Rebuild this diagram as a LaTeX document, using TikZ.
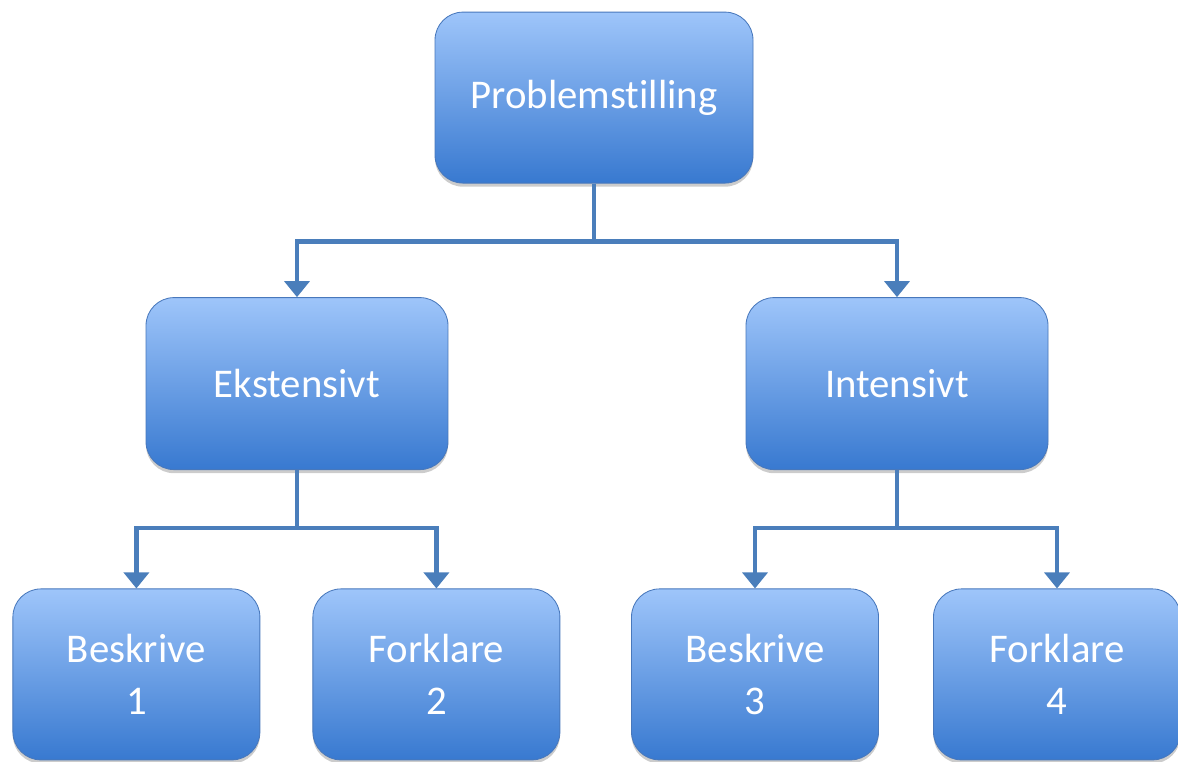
\documentclass[tikz,border=0pt]{standalone}
\usepackage{fontspec}
\setmainfont{Carlito}[Ligatures=CommonOff]
\usepackage{tikz}
\usetikzlibrary{arrows.meta,calc,shadows}
\definecolor{boxtop}{RGB}{158,197,250}
\definecolor{boxmid}{RGB}{108,157,234}
\definecolor{boxbot}{RGB}{56,121,208}
\definecolor{boxline}{RGB}{72,120,188}
\definecolor{connblue}{RGB}{74,126,187}
\def\dropdist{1.45}

\begin{document}
\begin{tikzpicture}[x=1cm, y=1cm]
            \tikzstyle{box}=[rectangle, rounded corners=0.7cm, draw=boxline, line width=0.6pt,
                top color=boxtop, middle color=boxmid, bottom color=boxbot,
                drop shadow={shadow xshift=0pt, shadow yshift=-0.09cm, opacity=0.2, fill=black},
                text=white, align=center, inner sep=0pt,
                font=\fontsize{29}{37}\selectfont]
            \tikzstyle{bigbox}=[box, minimum width=7.55cm, minimum height=4.3cm]
            \tikzstyle{smallbox}=[box, minimum width=6.175cm, minimum height=4.275cm]
            \tikzstyle{conn}=[draw=connblue, line width=3.5pt,
                -{Triangle[width=0.62cm, length=0.4cm]}]

            \useasboundingbox (0,0) rectangle (29.45,-19.025);

            % Draw the top node
            \node[box, minimum width=7.95cm, minimum height=4.275cm] (P) at (14.85,-2.44) {Problemstilling};

            % Draw the middle layer nodes
            \foreach \name / \x / \i in {Ekstensivt/7.425/1, Intensivt/22.425/2}
                \node[bigbox] (L-\i) at (\x,-9.59) {\name};

            % Draw the bottom layer nodes
            \foreach \name / \x / \i in {Beskrive\\1/3.41/1, Forklare\\2/10.91/2, Beskrive\\3/18.875/3, Forklare\\4/26.425/4}
                \node[smallbox] (B-\i) at (\x,-16.86) {\name};

            % Connect the top node with the middle layer
            \foreach \dest in {1,2}
                \draw[conn] (P.south) -- ++(0,-\dropdist) -| (L-\dest.north);

            % Connect every middle node with its two children
            \foreach \source / \dest in {1/1, 1/2, 2/3, 2/4}
                \draw[conn] (L-\source.south) -- ++(0,-\dropdist) -| (B-\dest.north);

        \end{tikzpicture}
\end{document}
